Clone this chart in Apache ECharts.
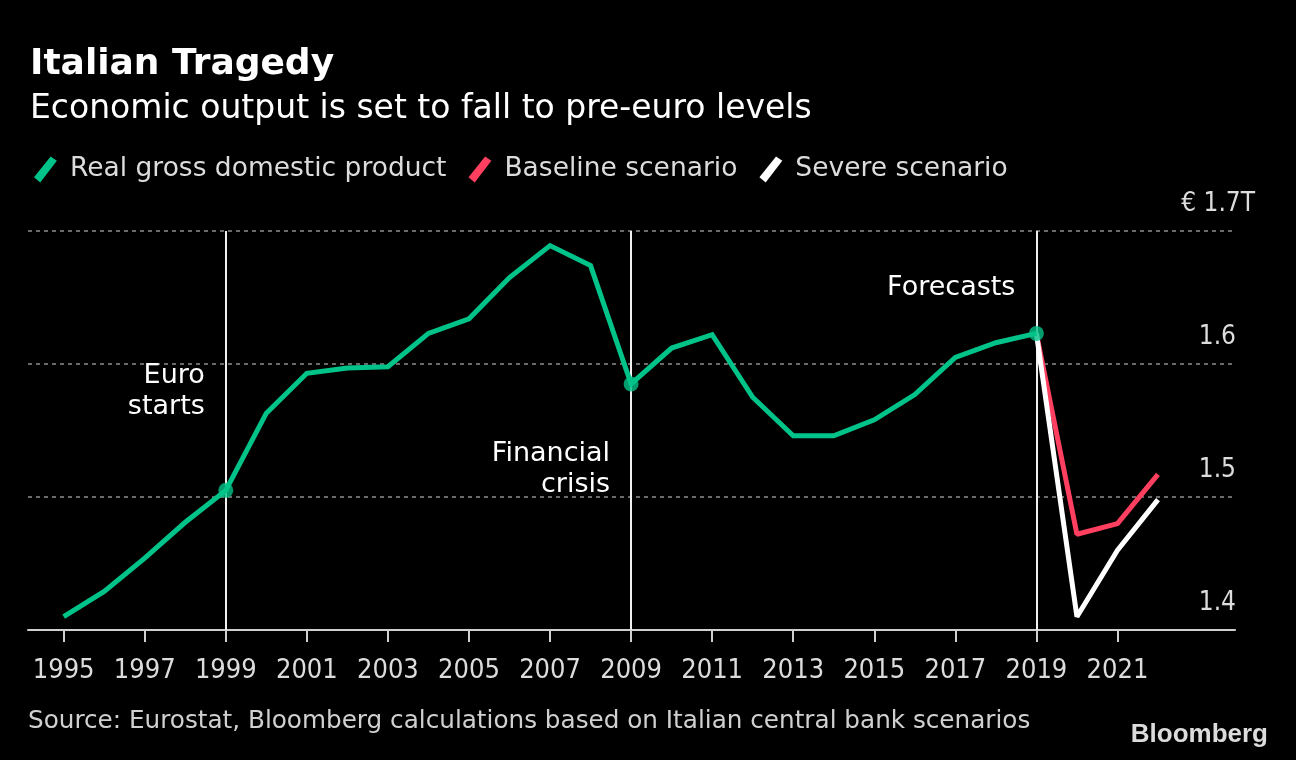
<!DOCTYPE html>
<html>
<head>
<meta charset="utf-8">
<script src="https://cdn.jsdelivr.net/npm/echarts@6/dist/echarts.min.js"></script>
<style>
html,body{margin:0;padding:0;background:#000;}
#chart{width:1296px;height:760px;}
</style>
</head>
<body>
<div id="chart"></div>
<script>
// ---- Data ----
const years = [1995,1996,1997,1998,1999,2000,2001,2002,2003,2004,2005,2006,2007,2008,2009,2010,2011,2012,2013,2014,2015,2016,2017,2018,2019];
const gdp = [1.410,1.429,1.454,1.481,1.505,1.563,1.593,1.597,1.598,1.623,1.634,1.665,1.689,1.674,1.585,1.612,1.622,1.575,1.546,1.546,1.558,1.577,1.605,1.616,1.623];
const forecastYears = [2019,2020,2021,2022];
const baseline = [1.623,1.472,1.480,1.517];
const severe = [1.623,1.410,1.460,1.498];
const xTickYears = [1995,1997,1999,2001,2003,2005,2007,2009,2011,2013,2015,2017,2019,2021];
const eventYears = [1999,2009,2019];
const annotations = [
  {text:'Euro\nstarts', year:1999, level:1.579},
  {text:'Financial\ncrisis', year:2009, level:1.521},
  {text:'Forecasts', year:2019, level:1.657}
];
const seriesNames = ['Real gross domestic product','Baseline scenario','Severe scenario'];

const FONT_C = '"DejaVu Sans Condensed","DejaVu Sans","Liberation Sans Narrow",sans-serif';
const FONT = '"DejaVu Sans","Noto Sans",sans-serif';
const GREEN = '#00c389', RED = '#ff3f5f', WHITE = '#ffffff';
const slash = 'path://M0,20 L16,0 L22,4 L6,25 Z';

const pair = (xs, ys) => xs.map((x,i)=>[x, ys[i]]);
const gdpData = pair(years, gdp);
const dotData = gdpData.filter(d => eventYears.includes(d[0]));

const chart = echarts.init(document.getElementById('chart'), null, {renderer:'canvas'});
const option = {
  backgroundColor:'#000',
  animation:false,
  textStyle:{fontFamily:FONT},
  title:[
    {text:'Italian Tragedy', left:25, top:42,
     textStyle:{color:'#fff', fontSize:36, fontWeight:'bold', fontFamily:FONT}},
    {text:'Economic output is set to fall to pre-euro levels', left:25, top:88,
     textStyle:{color:'#fff', fontSize:33, fontWeight:'normal', fontFamily:FONT}}
  ],
  legend:{
    left:29, top:151,
    itemWidth:25, itemHeight:26, itemGap:22,
    data:[
      {name:seriesNames[0], icon:slash, itemStyle:{color:GREEN}},
      {name:seriesNames[1], icon:slash, itemStyle:{color:RED}},
      {name:seriesNames[2], icon:slash, itemStyle:{color:WHITE}}
    ],
    textStyle:{color:'#dcdcdc', fontSize:26.5, fontFamily:FONT, padding:[0,0,0,7]},
    selectedMode:false
  },
  grid:{left:28, right:61, top:231, bottom:130, containLabel:false},
  xAxis:{
    type:'value', min:1994.12, max:2023.9,
    axisLine:{show:true, lineStyle:{color:'#cfcfcf', width:2}},
    axisTick:{show:true, customValues:xTickYears, length:12, lineStyle:{color:'#cfcfcf', width:2}},
    axisLabel:{show:true, customValues:xTickYears, color:'#dcdcdc', fontSize:27, margin:27, fontFamily:FONT_C,
      formatter:v=>String(v)},
    splitLine:{show:false}
  },
  yAxis:{
    type:'value', position:'right', min:1.4, max:1.7, interval:0.1,
    axisLine:{show:false}, axisTick:{show:false},
    splitLine:{show:true, lineStyle:{color:'#6a6a6a', width:2, type:[4,4]}},
    axisLabel:{
      show:true, align:'right', margin:20, verticalAlign:'middle', padding:[0,0,54,0],
      color:'#dcdcdc', fontSize:26, fontFamily:FONT_C,
      formatter:v => v > 1.69 ? '{t|€ 1.7T}' : '{n|' + v.toFixed(1) + '}',
      rich:{
        t:{color:'#dcdcdc', fontSize:26, fontFamily:FONT_C},
        n:{color:'#dcdcdc', fontSize:26, fontFamily:FONT_C, padding:[0,19,0,0]}
      }
    }
  },
  series:[
    {
      name:seriesNames[0], type:'line', data:gdpData, symbol:'none', z:5,
      lineStyle:{color:GREEN, width:5, join:'miter'}, itemStyle:{color:GREEN},
      markLine:{
        silent:true, symbol:['none','none'], z:1,
        lineStyle:{color:'#f0f0f0', width:2, type:'solid'},
        label:{show:false},
        data:eventYears.map(y=>({xAxis:y}))
      }
    },
    {
      name:seriesNames[1], type:'line', data:pair(forecastYears, baseline), symbol:'none', z:3,
      lineStyle:{color:RED, width:5}, itemStyle:{color:RED}
    },
    {
      name:seriesNames[2], type:'line', data:pair(forecastYears, severe), symbol:'none', z:4,
      lineStyle:{color:WHITE, width:5}, itemStyle:{color:WHITE}
    },
    {
      name:'dots', type:'scatter', data:dotData, symbol:'circle', symbolSize:15, z:6,
      itemStyle:{color:GREEN}, silent:true
    }
  ]
};
chart.setOption(option);

// annotations positioned from data coordinates
const graphics = annotations.map(a => {
  const p = chart.convertToPixel({xAxisIndex:0, yAxisIndex:0}, [a.year, a.level]);
  return {
    type:'text', x:p[0]-21, y:p[1], z:20,
    style:{text:a.text, fill:'#fff', font:'27px ' + FONT, align:'right', verticalAlign:'middle', lineHeight:31}
  };
});
graphics.push({
  type:'text', left:28, top:709, z:20,
  style:{text:'Source: Eurostat, Bloomberg calculations based on Italian central bank scenarios', fill:'#d0d0d0', font:'24.7px ' + FONT}
});
graphics.push({
  type:'text', right:28, top:722, z:20,
  style:{text:'Bloomberg', fill:'#dcdcdc', font:'bold 26px "Liberation Sans", Arial, sans-serif'}
});
chart.setOption({graphic:graphics});
</script>
</body>
</html>
